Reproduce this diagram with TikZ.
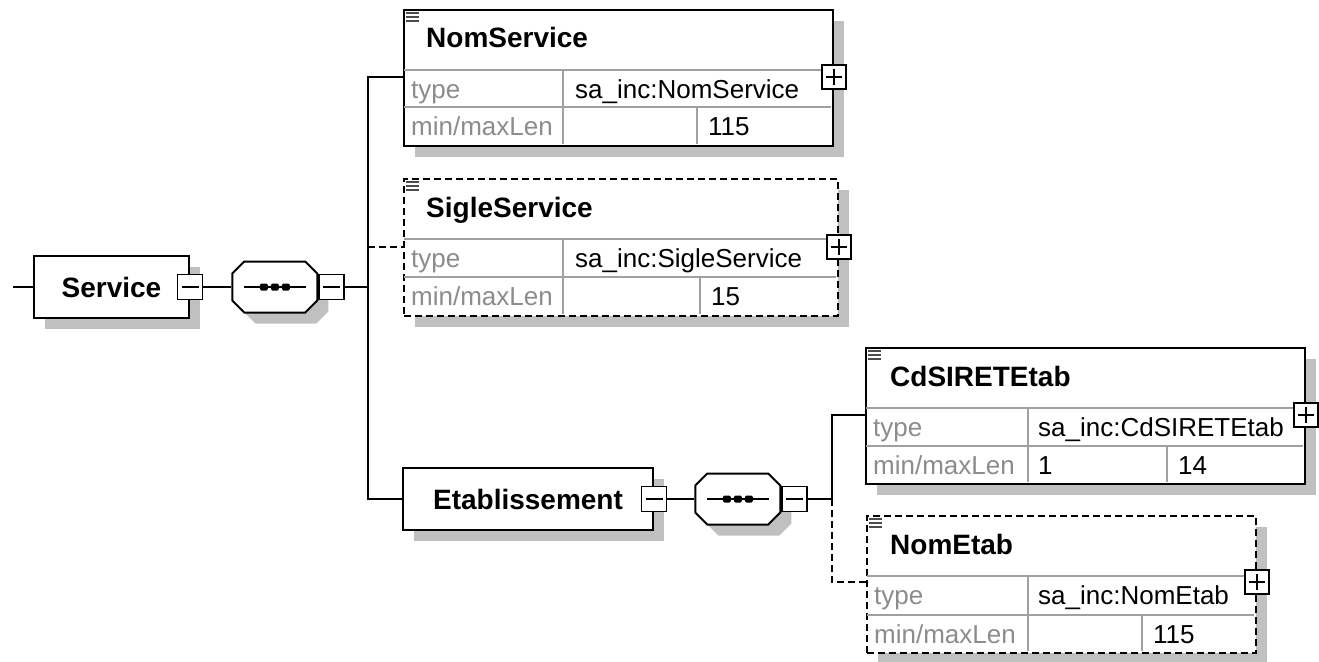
\documentclass[tikz,border=0pt]{standalone}
\usepackage{fontspec}
\setmainfont{Liberation Sans}
\usetikzlibrary{positioning,shapes.misc,shadows}
\definecolor{facetgray}{HTML}{8C8C8C}
\definecolor{tabgray}{HTML}{A0A0A0}
\definecolor{shadowgray}{HTML}{C0C0C0}

\begin{document}
\begin{tikzpicture} [
	x=1pt,y=-1pt,
	node distance=0pt,
	conn/.style={
		draw,line width=2pt},
	boxshadow/.style={
		drop shadow={shadow xshift=11pt,shadow yshift=-11pt,fill=shadowgray,opacity=1}},
	elem/.style={
		rectangle,draw,fill=white,line width=2pt,boxshadow,
		anchor=north west,inner sep=0pt},
	opt/.style={
		dash pattern=on 7pt off 4pt},
	head/.style={
		font=\fontsize{28}{32}\selectfont\bfseries},
	elemname/.style={
		anchor=base west,inner sep=0pt,font=\fontsize{28}{32}\selectfont\bfseries},
	facet/.style={
		anchor=base west,inner sep=0pt,text=facetgray,font=\fontsize{26}{30}\selectfont},
	facetval/.style={
		anchor=base west,inner sep=0pt,font=\fontsize{26}{30}\selectfont},
	tabline/.style={
		draw=tabgray,line width=1.5pt},
	docicon/.style={
		draw=black!70,line width=1.2pt},
	seq/.style={
		chamfered rectangle,chamfered rectangle sep=6pt,
		draw,fill=white,line width=2pt,boxshadow,
		inner xsep=36.5pt,inner ysep=19.5pt,
		path picture={
			\draw[black,line width=1.8pt] ([xshift=-31pt]path picture bounding box.center) -- ([xshift=31pt]path picture bounding box.center);
			\foreach \dx in {-11,0,11} \fill[black,rounded corners=1.5pt] ([shift={(\dx-4,-3.5)}]path picture bounding box.center) rectangle ++(8,7);}},
	collapse/.style={
		rectangle,draw,fill=white,line width=1.5pt,minimum size=25pt,inner sep=0pt,
		path picture={
			\draw[line width=1.5pt] ([xshift=4pt]path picture bounding box.west) -- ([xshift=-4pt]path picture bounding box.east);}},
	expand/.style={
		collapse,minimum size=24pt,
		path picture={
			\draw[line width=1.5pt] ([xshift=4pt]path picture bounding box.west) -- ([xshift=-4pt]path picture bounding box.east);
			\draw[line width=1.5pt] ([yshift=4pt]path picture bounding box.south) -- ([yshift=-4pt]path picture bounding box.north);}}]
\useasboundingbox (0,0) rectangle (1319,661);

% root element and its sequence
\node[elem,head,minimum width=155pt,minimum height=62pt] (service) at (33,255) {Service};
\node[collapse] (service-c) at (service.east) {};
\node[seq,right=28pt of service-c] (seq1) {};
\node[collapse,right=0pt of seq1] (seq1-c) {};
\coordinate[right=23pt of seq1-c] (bus1);
\coordinate[left=20pt of service] (root);

% NomService
\node[elem,minimum width=429pt,minimum height=136pt] (nomsvc) at (403,9) {};
\draw[tabline] (404,70) -- (831,70) (404,107) -- (831,107) (563,70) -- (563,144) (697,107) -- (697,144);
\node[elemname] at (426,48) {NomService};
\node[facet] at (411,98) {type};
\node[facetval] at (575,98) {sa\_inc:NomService};
\node[facet] at (411,135) {min/maxLen};
\node[facetval] at (708,135) {115};
\coordinate (nomsvc-in) at ([yshift=-68pt]nomsvc.north west);
\node[expand] (nomsvc-x) at (nomsvc-in -| nomsvc.east) {};

% SigleService
\node[elem,opt,minimum width=434pt,minimum height=137pt] (sigle) at (403,178) {};
\draw[tabline] (404,239) -- (836,239) (404,277) -- (836,277) (563,239) -- (563,314) (700,277) -- (700,314);
\node[elemname] at (426,217) {SigleService};
\node[facet] at (411,267) {type};
\node[facetval] at (575,267) {sa\_inc:SigleService};
\node[facet] at (411,305) {min/maxLen};
\node[facetval] at (711,305) {15};
\coordinate (sigle-in) at ([yshift=-69pt]sigle.north west);
\node[expand] (sigle-x) at (sigle-in -| sigle.east) {};

% Etablissement and its sequence
\node[elem,head,minimum width=250pt,minimum height=62pt] (etab) at (402,467) {Etablissement};
\node[collapse] (etab-c) at (etab.east) {};
\node[seq,right=27pt of etab-c] (seq2) {};
\node[collapse,right=0pt of seq2] (seq2-c) {};
\coordinate[right=24pt of seq2-c] (bus2);

% CdSIRETEtab
\node[elem,minimum width=439pt,minimum height=136pt] (cdsiret) at (865,347) {};
\draw[tabline] (866,408) -- (1303,408) (866,446) -- (1303,446) (1028,408) -- (1028,482) (1167,446) -- (1167,482);
\node[elemname] at (890,386) {CdSIRETEtab};
\node[facet] at (873,436) {type};
\node[facetval] at (1038,436) {sa\_inc:CdSIRETEtab};
\node[facet] at (873,474) {min/maxLen};
\node[facetval] at (1038,474) {1};
\node[facetval] at (1178,474) {14};
\coordinate (cdsiret-in) at ([yshift=-68pt]cdsiret.north west);
\node[expand] (cdsiret-x) at (cdsiret-in -| cdsiret.east) {};

% NomEtab
\node[elem,opt,minimum width=389pt,minimum height=137pt] (nometab) at (866,515) {};
\draw[tabline] (867,576) -- (1254,576) (867,615) -- (1254,615) (1028,576) -- (1028,651) (1142,615) -- (1142,651);
\node[elemname] at (890,554) {NomEtab};
\node[facet] at (874,604) {type};
\node[facetval] at (1038,604) {sa\_inc:NomEtab};
\node[facet] at (874,643) {min/maxLen};
\node[facetval] at (1153,643) {115};
\coordinate (nometab-in) at ([yshift=-67pt]nometab.north west);
\node[expand] (nometab-x) at (nometab-in -| nometab.east) {};

% doc icons
\foreach \el in {nomsvc,sigle,cdsiret,nometab}
	\foreach \dy in {4,8,12}
		\draw[docicon] ([shift={(3,\dy)}]\el.north west) -- ++(13,0);

% connectors
\draw[conn] (root) -- (service);
\draw[conn] (service-c) -- (seq1);
\draw[conn] (seq1-c) -- (bus1);
\draw[conn] (nomsvc-in) -| (bus1) |- (etab.west);
\draw[conn,opt] (sigle-in -| bus1) -- (sigle-in);
\draw[conn] (etab-c) -- (seq2);
\draw[conn] (seq2-c) -- (bus2);
\draw[conn] (cdsiret-in) -| (bus2);
\draw[conn,opt] (bus2) |- (nometab-in);
\end{tikzpicture}
\end{document}
